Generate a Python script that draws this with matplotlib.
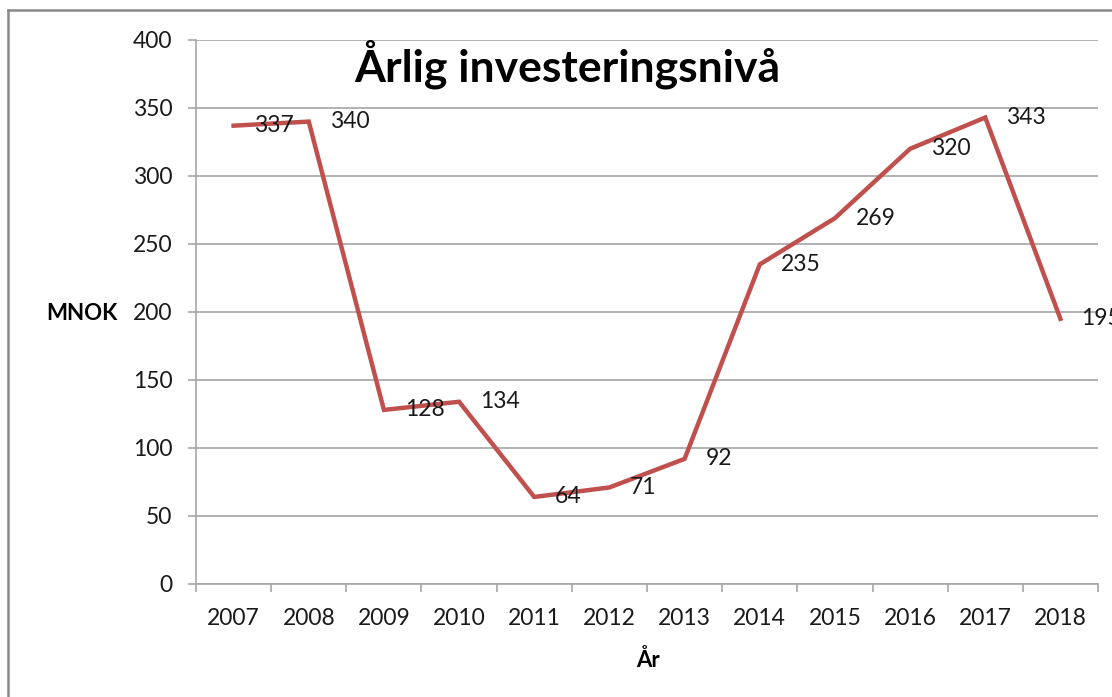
import matplotlib
matplotlib.use("Agg")
import matplotlib.pyplot as plt
from matplotlib.lines import Line2D
import numpy as np

years = ["2007", "2008", "2009", "2010", "2011", "2012", "2013", "2014", "2015", "2016", "2017", "2018"]
values = [337, 340, 128, 134, 64, 71, 92, 235, 269, 320, 343, 195]
y_ticks = [0, 50, 100, 150, 200, 250, 300, 350, 400]

plt.rcParams['font.family'] = ['Lato', 'DejaVu Sans']

W, H = 1112, 697
fig = plt.figure(figsize=(W / 100, H / 100), dpi=100)
ax = fig.add_axes([196 / W, (H - 584) / H, (1098 - 196) / W, (584 - 40) / H])

grey = "#a6a6a6"
x = np.arange(len(years))
ax.plot(x, values, color="#c0504d", lw=3.2, solid_joinstyle="miter", clip_on=False, zorder=3)

for xi, v in zip(x, values):
    ax.annotate(str(v), (xi, v), xytext=(15, 0), textcoords="offset points",
                ha="left", va="center", fontsize=16.5, color="#1a1a1a",
                annotation_clip=False, zorder=4)

ax.set_xlim(-0.5, len(years) - 0.5)
ax.set_ylim(0, 400)
ax.set_yticks(y_ticks)
ax.set_yticklabels([str(t) for t in y_ticks])
ax.set_xticks(x)
ax.set_xticklabels(years)
ax.set_xticks(np.arange(-0.5, len(years), 1.0), minor=True)

ax.tick_params(axis="x", which="major", length=0, pad=17, labelsize=16.5, labelcolor="#1a1a1a")
ax.tick_params(axis="x", which="minor", length=6, width=1.2, color=grey, direction="out")
ax.tick_params(axis="y", which="major", length=6, width=1.2, color=grey, pad=11, labelsize=16.5,
               labelcolor="#1a1a1a")

ax.grid(axis="y", color=grey, lw=1.2)
ax.set_axisbelow(True)
for s in ["top", "right"]:
    ax.spines[s].set_visible(False)
for s in ["left", "bottom"]:
    ax.spines[s].set_color(grey)
    ax.spines[s].set_linewidth(1.2)

fig.text(567 / W, 1 - 64 / H, "Årlig investeringsnivå", ha="center", va="center",
         fontsize=32, fontweight="bold", color="black")
fig.text(82 / W, 1 - 313 / H, "MNOK", ha="center", va="center", fontsize=16,
         fontweight="bold", color="black")
fig.text(648 / W, 1 - 660 / H, "År", ha="center", va="center", fontsize=16,
         fontweight="bold", color="black")

# outer chart border (only top and left visible)
fig.add_artist(Line2D([8 / W, 1.0], [1 - 10 / H, 1 - 10 / H], color="#888888", lw=1.8,
                      transform=fig.transFigure))
fig.add_artist(Line2D([8 / W, 8 / W], [1 - 10 / H, 0.0], color="#888888", lw=1.8,
                      transform=fig.transFigure))

fig.savefig("out.png", dpi=100, facecolor="white")
